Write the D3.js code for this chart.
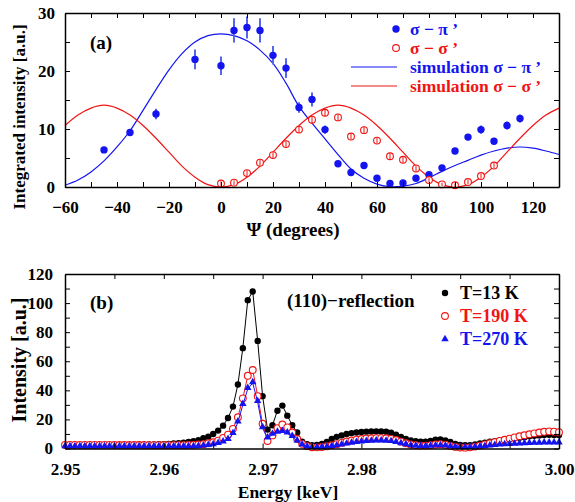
<!DOCTYPE html>
<html>
<head>
<meta charset="utf-8">
<script src="https://cdn.jsdelivr.net/npm/d3@7"></script>
<style>
  body { margin: 0; background: #fff; }
  svg text { font-family: "Liberation Serif", "Times New Roman", serif; font-weight: bold; }
</style>
</head>
<body>
<svg id="chart"></svg>
<script>
"use strict";

// ---- panel (a): azimuthal scan ----
var psiPi = [-45, -35, -25, -10, 0, 5, 10, 15, 20, 25, 30, 35, 40, 45, 50, 55, 60, 65, 70, 75, 80, 85, 90, 95, 100, 105, 110, 115];
var sigmaPi = [6.4, 9.4, 12.6, 22.0, 20.9, 27.0, 27.5, 27.0, 22.7, 20.5, 13.7, 15.1, 9.9, 4.0, 2.5, 3.7, 1.5, 0.6, 0.7, 1.5, 2.1, 3.3, 6.2, 8.6, 9.9, 7.9, 10.6, 11.8];
var sigmaPiErr = [0.3, 0.4, 0.9, 1.7, 1.6, 2.1, 1.9, 2.1, 1.6, 1.7, 0.9, 1.2, 0.7, 0.3, 0.3, 0.3, 0.3, 0.2, 0.2, 0.3, 0.3, 0.4, 0.5, 0.5, 0.7, 0.5, 0.7, 0.7];

var psiSigma = [0, 5, 10, 15, 20, 25, 30, 35, 40, 45, 50, 55, 60, 65, 70, 75, 80, 85, 90, 95, 100, 105];
var sigmaSigma = [0.6, 0.75, 2.4, 4.2, 5.5, 7.4, 9.9, 11.6, 12.8, 12.0, 8.7, 9.8, 8.0, 5.3, 4.7, 3.2, 1.2, 0.45, 0.3, 0.85, 1.9, 3.7];
var sigmaSigmaErr = [0.4, 0.4, 0.5, 0.5, 0.5, 0.5, 0.6, 0.6, 0.6, 0.6, 0.5, 0.6, 0.5, 0.5, 0.5, 0.5, 0.4, 0.3, 0.3, 0.4, 0.4, 0.5];

var simPsi = [-60, -55, -50, -45, -40, -35, -30, -25, -20, -15, -10, -5, 0, 5, 10, 15, 20, 25, 30, 35, 40, 45, 50, 55, 60, 65, 70, 75, 80, 85, 90, 95, 100, 105, 110, 115, 120, 125, 130];
var simSigmaPi = [0.3, 1.2, 2.6, 4.5, 6.9, 9.7, 13.2, 16.8, 20.2, 23.0, 25.0, 26.1, 26.4, 26.1, 25.2, 23.6, 21.3, 17.9, 13.9, 11.0, 8.3, 5.6, 3.1, 1.5, 0.5, 0.05, 0.15, 0.6, 1.6, 2.7, 3.7, 4.6, 5.5, 6.2, 6.7, 6.9, 6.7, 6.2, 5.6];
var simSigmaSigma = [10.6, 12.4, 13.6, 14.1, 13.6, 12.4, 10.6, 8.4, 6.0, 3.6, 1.7, 0.4, 0.0, 0.4, 1.7, 3.6, 6.0, 8.4, 10.6, 12.4, 13.6, 14.1, 13.6, 12.4, 10.6, 8.4, 6.0, 3.6, 1.7, 0.4, 0.0, 0.4, 1.7, 3.6, 6.0, 8.4, 10.6, 12.4, 13.6];

// ---- panel (b): energy scans, 2.950 .. 3.000 keV in 0.0005 keV steps ----
var energyStart = 2.95, energyStep = 0.0005;
var t13 = [2.0, 2.0, 2.0, 2.0, 2.1, 2.1, 2.1, 2.2, 2.2, 2.2, 2.3, 2.3, 2.4, 2.4, 2.5, 2.6, 2.6, 2.7, 2.8, 2.9,
  3.0, 3.2, 3.4, 3.7, 4.0, 4.5, 5.0, 5.7, 7.0, 8.1, 10.0, 12.3, 15.7, 21, 28.8, 44, 69, 102, 108, 74,
  36, 13, 16, 26, 29.5, 22.6, 16, 11, 4.7, 2.9, 2.3, 2.5, 3.2, 4.5, 6.5, 8.0, 9.0, 10.0, 10.6, 11.0,
  11.4, 11.6, 11.7, 11.7, 11.7, 11.5, 10.8, 9.5, 8.0, 6.6, 5.6, 5.0, 4.7, 4.7, 5.2, 6.0, 6.3, 5.6, 4.5, 3.2,
  2.5, 2.2, 2.3, 2.8, 3.4, 4.0, 4.6, 5.1, 5.6, 6.1, 6.6, 7.0, 7.4, 7.8, 8.4, 8.7, 9.0, 9.2, 9.4, 9.3, 9.2];
var t190 = [2.5, 2.5, 2.5, 2.5, 2.5, 2.5, 2.5, 2.5, 2.5, 2.5, 2.4, 2.4, 2.4, 2.4, 2.4, 2.4, 2.4, 2.3, 2.3, 2.3,
  2.3, 2.3, 2.3, 2.3, 2.3, 2.4, 2.5, 2.7, 3.0, 3.6, 4.3, 5.4, 7.3, 9.5, 13.5, 21.5, 34.5, 50, 54, 36,
  17, 5.2, 9, 14, 16.5, 14.5, 11, 6.5, 3.2, 1.6, 0.9, 0.8, 1.0, 1.5, 2.2, 3.0, 3.9, 4.8, 5.5, 6.1,
  6.5, 6.8, 7.0, 7.1, 7.1, 7.0, 6.6, 5.8, 4.7, 3.6, 2.8, 2.3, 2.0, 2.0, 2.3, 2.8, 3.0, 2.6, 1.8, 1.1,
  0.7, 0.6, 0.8, 1.3, 2.0, 2.8, 3.6, 4.4, 5.2, 6.0, 6.8, 7.6, 8.4, 9.1, 9.8, 10.4, 11.0, 11.5, 11.8, 11.6, 11.2];
var t270 = [1.0, 1.0, 1.0, 1.0, 1.0, 1.0, 1.0, 1.0, 1.0, 1.0, 1.0, 1.0, 1.0, 1.0, 1.0, 1.0, 1.0, 1.0, 1.0, 1.0,
  1.0, 1.0, 1.0, 1.0, 1.0, 1.0, 1.0, 1.2, 1.5, 1.9, 2.4, 3.2, 4.3, 6.0, 10.0, 18, 30, 41, 45, 32,
  14, 7, 9.5, 11, 11.5, 10.5, 8, 5, 2.2, 0.8, 0.4, 0.3, 0.4, 0.7, 1.1, 1.6, 2.2, 2.8, 3.4, 3.9,
  4.3, 4.6, 4.8, 4.9, 4.9, 4.8, 4.5, 3.9, 3.1, 2.3, 1.7, 1.3, 1.1, 1.1, 1.3, 1.6, 1.7, 1.5, 1.0, 0.6,
  0.4, 0.3, 0.4, 0.6, 0.9, 1.2, 1.5, 1.8, 2.1, 2.3, 2.5, 2.7, 2.9, 3.0, 3.2, 3.3, 3.4, 3.5, 3.6, 3.6, 3.6];

var width = 575
  , height = 502
  , blue = "#1414f0"
  , red = "#f01414"
  , fontSize = 17;

var svg = d3.select("#chart")
  .attr("width", width)
  .attr("height", height);

// draws a boxed frame with inward ticks on all four sides
function frame(x, y, xTicks, xLabel, yTicks, yLabel, yPad) {
  var x0 = x.range()[0], x1 = x.range()[1]
    , y0 = y.range()[0], y1 = y.range()[1];

  var axes = [
    d3.axisBottom(x).tickValues(xTicks).tickFormat(xLabel).tickSizeInner(-5).tickSizeOuter(0).tickPadding(14),
    d3.axisTop(x).tickValues(xTicks).tickFormat("").tickSizeInner(-5).tickSizeOuter(0),
    d3.axisLeft(y).tickValues(yTicks).tickFormat(yLabel).tickSizeInner(-5).tickSizeOuter(0).tickPadding(yPad),
    d3.axisRight(y).tickValues(yTicks).tickFormat("").tickSizeInner(-5).tickSizeOuter(0)
  ];
  var shifts = [[0, y0], [0, y1], [x0, 0], [x1, 0]];

  axes.forEach(function (a, i) {
    var g = svg.append("g")
      .attr("transform", "translate(" + shifts[i] + ")")
      .call(a);
    g.attr("font-size", fontSize).attr("font-family", null);
    g.select(".domain").attr("stroke-width", 1.5);
    g.selectAll(".tick line").attr("stroke-width", 1);
    g.selectAll(".tick text").attr("fill", "#000");
  });
}

// ================= panel (a) =================
var xa = d3.scaleLinear().domain([-60, 130]).range([65, 559]);
var ya = d3.scaleLinear().domain([0, 30]).range([187, 13]);

var simLine = d3.line()
  .x(function (d) { return xa(d[0]); })
  .y(function (d) { return ya(d[1]); })
  .curve(d3.curveCatmullRom.alpha(0.5));

svg.append("path")
  .datum(d3.zip(simPsi, simSigmaPi))
  .attr("d", simLine)
  .attr("fill", "none")
  .attr("stroke", blue)
  .attr("stroke-width", 1.2);

svg.append("path")
  .datum(d3.zip(simPsi, simSigmaSigma))
  .attr("d", simLine)
  .attr("fill", "none")
  .attr("stroke", red)
  .attr("stroke-width", 1.2);

// sigma-pi measured, with error bars
var piPts = d3.zip(psiPi, sigmaPi, sigmaPiErr);
svg.append("g").selectAll("line")
  .data(piPts)
  .enter()
  .append("line")
  .attr("x1", function (d) { return xa(d[0]); })
  .attr("x2", function (d) { return xa(d[0]); })
  .attr("y1", function (d) { return ya(d[1] - d[2]); })
  .attr("y2", function (d) { return ya(d[1] + d[2]); })
  .attr("stroke", "#5466ee")
  .attr("stroke-width", 2);

svg.append("g").selectAll("circle")
  .data(piPts)
  .enter()
  .append("circle")
  .attr("cx", function (d) { return xa(d[0]); })
  .attr("cy", function (d) { return ya(d[1]); })
  .attr("r", 3.7)
  .attr("fill", blue);

// sigma-sigma measured
var sigPts = d3.zip(psiSigma, sigmaSigma, sigmaSigmaErr);
svg.append("g").selectAll("circle")
  .data(sigPts)
  .enter()
  .append("circle")
  .attr("cx", function (d) { return xa(d[0]); })
  .attr("cy", function (d) { return ya(d[1]); })
  .attr("r", 3.4)
  .attr("fill", "#fff")
  .attr("stroke", red)
  .attr("stroke-width", 1.1);

svg.append("g").selectAll("line")
  .data(sigPts)
  .enter()
  .append("line")
  .attr("x1", function (d) { return xa(d[0]); })
  .attr("x2", function (d) { return xa(d[0]); })
  .attr("y1", function (d) { return ya(d[1] - d[2]); })
  .attr("y2", function (d) { return ya(d[1] + d[2]); })
  .attr("stroke", red)
  .attr("stroke-width", 1);

frame(xa, ya, d3.range(-60, 131, 10),
  function (d) { return d % 20 === 0 ? d3.format("d")(d) : ""; },
  d3.range(0, 31, 5),
  function (d) { return d % 10 === 0 ? d : ""; }, 10);

svg.append("text")
  .attr("x", 90).attr("y", 49)
  .style("font-size", "19px")
  .text("(a)");

// legend (a)
var legA = [
  { label: "σ − π ’", color: blue, kind: "dot", y: 29 },
  { label: "σ − σ ’", color: red, kind: "ring", y: 48 },
  { label: "simulation σ − π ’", color: blue, kind: "line", y: 67 },
  { label: "simulation σ − σ ’", color: red, kind: "line", y: 86 }
];
legA.forEach(function (d) {
  if (d.kind === "dot") {
    svg.append("circle").attr("cx", 396).attr("cy", d.y).attr("r", 3.7).attr("fill", d.color);
  } else if (d.kind === "ring") {
    svg.append("circle").attr("cx", 396).attr("cy", d.y).attr("r", 3.4)
      .attr("fill", "#fff").attr("stroke", d.color).attr("stroke-width", 1.1);
  } else {
    svg.append("line").attr("x1", 351).attr("x2", 397).attr("y1", d.y).attr("y2", d.y)
      .attr("stroke", d.color).attr("stroke-width", 1.2);
  }
  svg.append("text")
    .attr("x", 410).attr("y", d.y + 6)
    .attr("fill", d.color)
    .style("font-size", "17.5px")
    .text(d.label);
});

svg.append("text")
  .attr("transform", "translate(" + 293 + "," + 236 + ")")
  .style("text-anchor", "middle")
  .style("font-size", "19px")
  .text("Ψ (degrees)");

svg.append("text")
  .attr("transform", "translate(25," + 117 + ") rotate(-90)")
  .style("text-anchor", "middle")
  .style("font-size", fontSize + "px")
  .text("Integrated intensity [a.u.]");

// ================= panel (b) =================
var xb = d3.scaleLinear().domain([2.95, 3.0]).range([65, 559]);
var yb = d3.scaleLinear().domain([0, 120]).range([448.5, 274]);

function energyOf(i) { return energyStart + i * energyStep; }

var scanLine = d3.line()
  .x(function (d, i) { return xb(energyOf(i)); })
  .y(function (d) { return yb(d); });

var series = [
  { values: t13, color: "#000", kind: "dot" },
  { values: t190, color: red, kind: "ring" },
  { values: t270, color: blue, kind: "tri" }
];

var tri = d3.symbol().type(d3.symbolTriangle).size(24);

series.forEach(function (s) {
  svg.append("path")
    .attr("d", scanLine(s.values))
    .attr("fill", "none")
    .attr("stroke", s.color)
    .attr("stroke-width", 1);

  var g = svg.append("g");
  if (s.kind === "tri") {
    g.selectAll("path")
      .data(s.values)
      .enter()
      .append("path")
      .attr("d", tri)
      .attr("transform", function (d, i) { return "translate(" + xb(energyOf(i)) + "," + (yb(d) - 1) + ")"; })
      .attr("fill", s.color);
  } else {
    g.selectAll("circle")
      .data(s.values)
      .enter()
      .append("circle")
      .attr("cx", function (d, i) { return xb(energyOf(i)); })
      .attr("cy", function (d) { return yb(d); })
      .attr("r", s.kind === "dot" ? 3.2 : 3.4)
      .attr("fill", s.kind === "dot" ? "#000" : "#fff")
      .attr("stroke", s.kind === "dot" ? "none" : s.color)
      .attr("stroke-width", 1.1);
  }
});

frame(xb, yb, d3.range(0, 11).map(function (i) { return 2.95 + i * 0.005; }),
  function (d, i) { return i % 2 === 0 ? d3.format(".2f")(d) : ""; },
  d3.range(0, 121, 10),
  function (d) { return d % 20 === 0 ? d : ""; }, 12);

svg.append("text")
  .attr("x", 90).attr("y", 309)
  .style("font-size", "19px")
  .text("(b)");

svg.append("text")
  .attr("x", 287).attr("y", 307)
  .style("font-size", "19px")
  .text("(110)−reflection");

// legend (b)
var legB = [
  { label: "T=13 K", color: "#000", kind: "dot", y: 293 },
  { label: "T=190 K", color: red, kind: "ring", y: 316 },
  { label: "T=270 K", color: blue, kind: "tri", y: 339 }
];
legB.forEach(function (d) {
  if (d.kind === "dot") {
    svg.append("circle").attr("cx", 445).attr("cy", d.y).attr("r", 3.2).attr("fill", d.color);
  } else if (d.kind === "ring") {
    svg.append("circle").attr("cx", 445).attr("cy", d.y).attr("r", 3.4)
      .attr("fill", "#fff").attr("stroke", d.color).attr("stroke-width", 1.1);
  } else {
    svg.append("path").attr("d", tri).attr("transform", "translate(445," + d.y + ")").attr("fill", d.color);
  }
  svg.append("text")
    .attr("x", 460).attr("y", d.y + 6)
    .attr("fill", d.color)
    .style("font-size", "18px")
    .text(d.label);
});

svg.append("text")
  .attr("transform", "translate(288,498)")
  .style("text-anchor", "middle")
  .style("font-size", "17.5px")
  .text("Energy [keV]");

svg.append("text")
  .attr("transform", "translate(26," + 360 + ") rotate(-90)")
  .style("text-anchor", "middle")
  .style("font-size", "20px")
  .text("Intensity [a.u.]");
</script>
</body>
</html>
